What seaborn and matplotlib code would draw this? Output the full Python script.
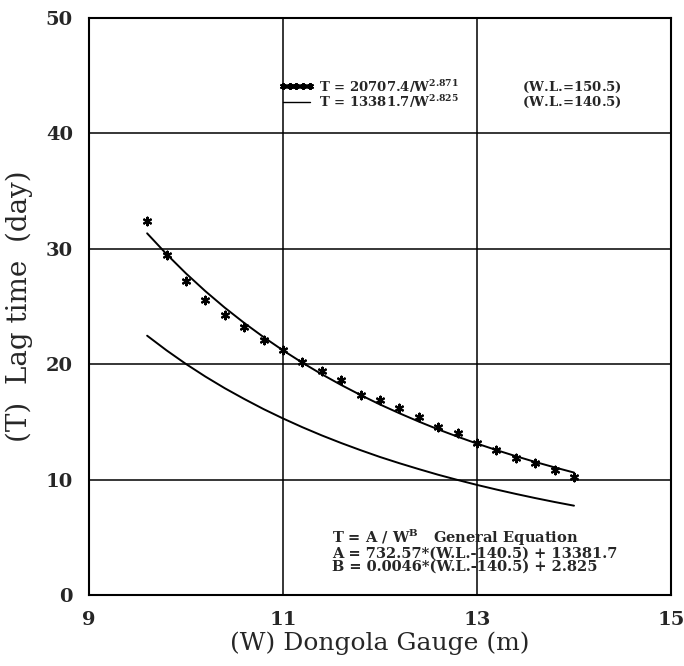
import numpy as np
import pandas as pd
import matplotlib
matplotlib.use('Agg')
import matplotlib.pyplot as plt
import seaborn as sns
from matplotlib.ticker import MultipleLocator
from matplotlib.lines import Line2D

obs_w = [9.6, 9.8, 10.0, 10.2, 10.4, 10.6, 10.8, 11.0, 11.2, 11.4, 11.6, 11.8,
         12.0, 12.2, 12.4, 12.6, 12.8, 13.0, 13.2, 13.4, 13.6, 13.8, 14.0]
obs_t = [32.4, 29.5, 27.2, 25.6, 24.3, 23.2, 22.1, 21.2, 20.2, 19.4, 18.6, 17.3,
         16.9, 16.2, 15.4, 14.6, 14.0, 13.2, 12.6, 11.9, 11.4, 10.8, 10.2]

# fitted curves
curve_w = obs_w
upper_t = [31.34, 29.54, 27.87, 26.33, 24.90, 23.58, 22.35, 21.20, 20.13, 19.13,
           18.20, 17.33, 16.51, 15.75, 15.03, 14.35, 13.72, 13.12, 12.56, 12.03,
           11.53, 11.06, 10.61]
lower_t = [22.47, 21.20, 20.02, 18.93, 17.92, 16.99, 16.11, 15.30, 14.54, 13.83,
           13.17, 12.55, 11.96, 11.42, 10.91, 10.42, 9.97, 9.54, 9.14, 8.76,
           8.40, 8.06, 7.74]

x_ticks = [9, 11, 13, 15]
y_ticks = [0, 10, 20, 30, 40, 50]

sns.set_style('white')
plt.rcParams['font.family'] = ['DejaVu Serif', 'DejaVu Sans']
plt.rcParams['mathtext.fontset'] = 'dejavuserif'

fig = plt.figure(figsize=(6.84, 6.66), dpi=100)
ax = fig.add_axes([0.130, 0.1066, 0.851, 0.8664])

df_curves = pd.DataFrame({'W': curve_w, 'up': upper_t, 'low': lower_t})
sns.lineplot(data=df_curves, x='W', y='up', color='black', lw=1.4, ax=ax)
sns.lineplot(data=df_curves, x='W', y='low', color='black', lw=1.4, ax=ax)
sns.scatterplot(x=obs_w, y=obs_t, marker=(6, 2, 0), s=30, color='black',
                edgecolor='black', linewidth=1.6, ax=ax, zorder=5)

ax.set_xlim(9, 15)
ax.set_ylim(0, 50)
ax.set_xticks(x_ticks)
ax.set_yticks(y_ticks)
ax.xaxis.set_minor_locator(MultipleLocator(0.2))
ax.yaxis.set_minor_locator(MultipleLocator(1))
ax.grid(True, which='major', color='black', lw=1.1)
ax.set_axisbelow(True)
ax.tick_params(which='major', direction='out', length=8, width=1.2,
               labelsize=14, color='black')
ax.tick_params(which='minor', direction='in', length=6, width=1.0, color='black')
for lab in ax.get_xticklabels() + ax.get_yticklabels():
    lab.set_fontweight('bold')
for sp in ax.spines.values():
    sp.set_color('black')
    sp.set_linewidth(1.5)

ax.set_xlabel('(W) Dongola Gauge (m)', fontsize=18, labelpad=2)
ax.set_ylabel('(T)  Lag time  (day)', fontsize=20, labelpad=9)

handles = [
    Line2D([], [], color='black', lw=1.0, marker=(6, 2, 0), markersize=5,
           markeredgewidth=1.4),
    Line2D([], [], color='black', lw=1.0),
]
labels = [r'T = 20707.4/W$^{\mathbf{2.871}}$              (W.L.=150.5)',
          r'T = 13381.7/W$^{\mathbf{2.825}}$              (W.L.=140.5)']
leg = ax.legend(handles, labels, loc='upper left', bbox_to_anchor=(0.318, 0.905),
                frameon=False, numpoints=5, handlelength=2.6, handletextpad=0.4,
                labelspacing=-0.12, borderaxespad=0,
                prop={'family': 'DejaVu Serif', 'weight': 'bold', 'size': 9.5})

ax.text(0.418, 0.117,
        'T = A / W$^{\\mathbf{B}}$   General Equation\n'
        'A = 732.57*(W.L.-140.5) + 13381.7\n'
        'B = 0.0046*(W.L.-140.5) + 2.825',
        transform=ax.transAxes, ha='left', va='top', fontsize=10.5,
        fontweight='bold', linespacing=0.92)

fig.savefig('out.png', dpi=100)
